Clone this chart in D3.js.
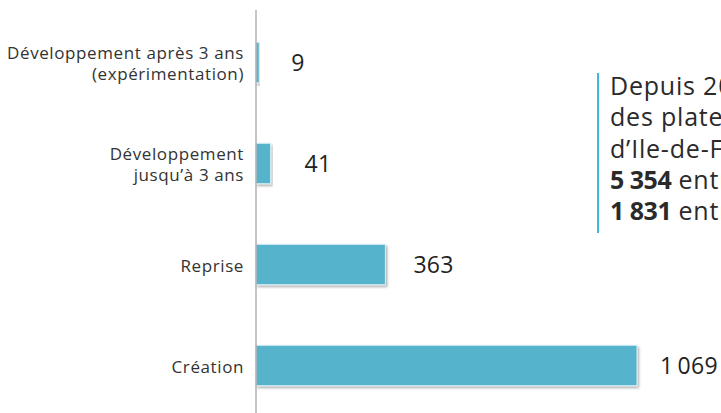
<!DOCTYPE html>
<html>
<head>
<meta charset="utf-8">
<script src="https://cdn.jsdelivr.net/npm/d3@7"></script>
<style>
  body { margin: 0; background: #fff; overflow: hidden; }
  svg { display: block; font-family: "Open Sans", sans-serif; }
</style>
</head>
<body>
<svg id="chart" width="721" height="413"></svg>
<script>
// données
var categories = [
  ["Développement après 3 ans", "(expérimentation)"],
  ["Développement", "jusqu’à 3 ans"],
  ["Reprise"],
  ["Création"],
];
var values = [9, 41, 363, 1069];

// encadré de texte (coupé à droite dans l'original)
var noteLines = [
  { bold: "", rest: "Depuis 2014," },
  { bold: "", rest: "des plateformes" },
  { bold: "", rest: "d’Ile-de-France :" },
  { bold: "5 354", rest: " entreprises" },
  { bold: "1 831", rest: " entreprises" },
];

var svg = d3.select("#chart");
var x0 = 256;

var fr = d3.formatLocale({ decimal: ",", thousands: "\u2009", grouping: [3], currency: ["", " €"] });
var fmt = fr.format(",");

var xScale = d3.scaleLinear().domain([0, 1069]).range([x0, 637]);
var yScale = d3.scaleBand()
  .domain(d3.range(categories.length))
  .range([12, 416])
  .paddingInner(0.6)
  .paddingOuter(0.3);

var defs = svg.append("defs");
var f = defs.append("filter").attr("id", "shadow")
  .attr("x", "-5%").attr("y", "-20%").attr("width", "120%").attr("height", "160%");
f.append("feDropShadow")
  .attr("dx", 1.5).attr("dy", 2)
  .attr("stdDeviation", 1)
  .attr("flood-color", "#000")
  .attr("flood-opacity", 0.3);

// barres
svg.append("g")
  .selectAll("rect")
  .data(values)
  .join("rect")
  .attr("x", x0)
  .attr("y", function (d, i) { return yScale(i); })
  .attr("width", function (d) { return xScale(d) - x0; })
  .attr("height", yScale.bandwidth())
  .attr("fill", "#57b3cc")
  .attr("stroke", "#d6eef5")
  .attr("stroke-width", 1)
  .attr("filter", "url(#shadow)");

// axe vertical
svg.append("line")
  .attr("x1", x0).attr("x2", x0)
  .attr("y1", 10).attr("y2", 413)
  .attr("stroke", "#a6a6a6")
  .attr("stroke-width", 1.3);

// libellés des catégories
var labels = svg.append("g")
  .selectAll("text")
  .data(categories)
  .join("text")
  .attr("text-anchor", "end")
  .attr("fill", "#333")
  .style("font-size", "17px")
  .style("letter-spacing", "0.6px")
  .attr("y", function (d, i) { return yScale(i) + yScale.bandwidth() / 2; });
labels.selectAll("tspan")
  .data(function (d) { return d; })
  .join("tspan")
  .attr("x", 244)
  .attr("dy", function (d, j, nodes) {
    var n = nodes.length;
    return j === 0 ? (-(n - 1) * 10.5 + 7) + "px" : "21px";
  })
  .text(function (d) { return d; });

// valeurs
var labelOffset = [32, 34, 28, 23];
svg.append("g")
  .selectAll("text")
  .data(values)
  .join("text")
  .attr("x", function (d, i) { return xScale(d) + labelOffset[i]; })
  .attr("y", function (d, i) { return yScale(i) + yScale.bandwidth() / 2 + 8; })
  .attr("fill", "#222")
  .style("font-size", "23px")
  .style("letter-spacing", "0.3px")
  .text(function (d) { return fmt(d); });

// encadré
svg.append("line")
  .attr("x1", 598).attr("x2", 598)
  .attr("y1", 73).attr("y2", 233)
  .attr("stroke", "#3dbad9")
  .attr("stroke-width", 2);

var note = svg.append("g")
  .selectAll("text")
  .data(noteLines)
  .join("text")
  .attr("x", 610)
  .attr("y", function (d, i) { return 95 + i * 31.3; })
  .attr("fill", "#2a2a2a")
  .style("font-size", "25px")
  .style("letter-spacing", "0.8px");
note.append("tspan")
  .style("font-weight", "bold")
  .style("letter-spacing", "-0.5px")
  .text(function (d) { return d.bold; });
note.append("tspan")
  .text(function (d) { return d.rest; });
</script>
</body>
</html>
